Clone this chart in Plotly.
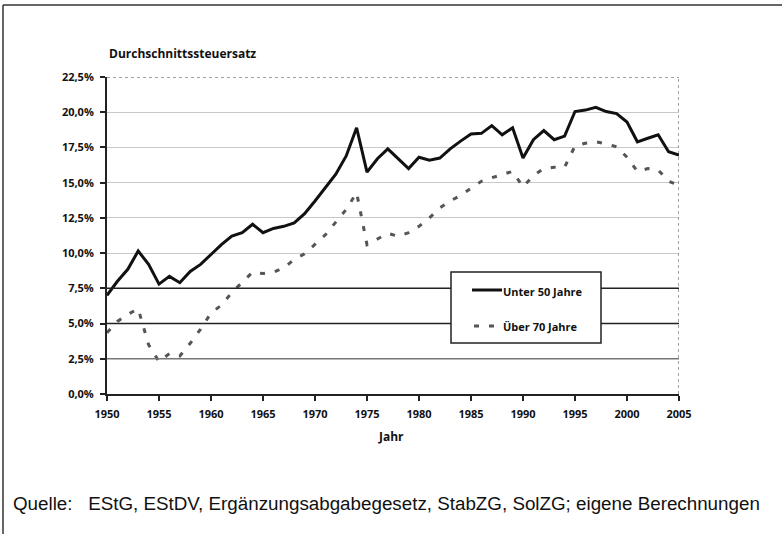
import plotly.graph_objects as go

years = list(range(1950, 2006))

unter_50 = [7.0, 8.0, 8.85, 10.15, 9.2, 7.8, 8.35, 7.9, 8.7, 9.2,
            9.9, 10.6, 11.2, 11.45, 12.05, 11.45, 11.75, 11.9, 12.15, 12.8,
            13.7, 14.65, 15.6, 16.9, 18.9, 15.75, 16.7, 17.4, 16.7, 16.0,
            16.8, 16.6, 16.75, 17.4, 17.95, 18.45, 18.5, 19.05, 18.4, 18.9,
            16.75, 18.05, 18.7, 18.05, 18.3, 20.05, 20.15, 20.35, 20.05, 19.9,
            19.3, 17.9, 18.15, 18.4, 17.2, 16.95]

ueber_70 = [4.35, 5.15, 5.65, 6.05, 3.5, 2.3, 2.87, 2.7, 3.6, 4.6,
            5.75, 6.3, 7.2, 7.9, 8.65, 8.55, 8.65, 8.95, 9.55, 9.95,
            10.6, 11.3, 12.2, 13.1, 14.3, 10.6, 11.0, 11.4, 11.2, 11.45,
            11.9, 12.5, 13.2, 13.7, 14.1, 14.6, 15.1, 15.35, 15.6, 15.8,
            14.7, 15.5, 16.0, 16.1, 16.1, 17.6, 17.8, 17.9, 17.75, 17.55,
            16.8, 15.8, 16.0, 15.9, 15.1, 14.8]

series_names = ["Unter 50 Jahre", "Über 70 Jahre"]
y_ticks = [0, 2.5, 5, 7.5, 10, 12.5, 15, 17.5, 20, 22.5]
y_ticktext = ["0,0%", "2,5%", "5,0%", "7,5%", "10,0%", "12,5%", "15,0%", "17,5%", "20,0%", "22,5%"]
x_ticks = list(range(1950, 2006, 5))
dark_grid = [2.5, 5, 7.5]

W, H = 782, 534
L, R, T, B = 107, 103, 77, 140
pw, ph = W - L - R, H - T - B

def px(x):
    return (x - L) / pw

def py(y):
    return 1 - (y - T) / ph

FONT = "Open Sans"

fig = go.Figure()
fig.add_trace(go.Scatter(x=years, y=unter_50, mode="lines", name=series_names[0],
                         line=dict(color="#111111", width=3), showlegend=False))
fig.add_trace(go.Scatter(x=years, y=ueber_70, mode="lines", name=series_names[1],
                         line=dict(color="#555555", width=3, dash="5px,10px"), showlegend=False))

shapes = []
for g in dark_grid:
    shapes.append(dict(type="line", xref="x", yref="y", x0=1950, x1=2005, y0=g, y1=g,
                       line=dict(color="#222222" if g > 2.5 else "#777777", width=1.5), layer="above"))
# top and right dotted border of the plot area
shapes.append(dict(type="line", xref="x", yref="y", x0=1950, x1=2005, y0=22.5, y1=22.5,
                   line=dict(color="#444444", width=1, dash="dot")))
shapes.append(dict(type="line", xref="x", yref="y", x0=2005, x1=2005, y0=0, y1=22.5,
                   line=dict(color="#444444", width=1, dash="dot")))
# outer frame
shapes.append(dict(type="line", xref="paper", yref="paper", x0=px(3), x1=px(782), y0=py(5), y1=py(5),
                   line=dict(color="#333333", width=1.5)))
shapes.append(dict(type="line", xref="paper", yref="paper", x0=px(3), x1=px(3), y0=py(5), y1=py(534),
                   line=dict(color="#333333", width=1.5)))
# legend box (drawn manually)
shapes.append(dict(type="rect", xref="paper", yref="paper", x0=px(451), x1=px(601), y0=py(272), y1=py(343),
                   line=dict(color="#222222", width=1.5), fillcolor="white", layer="above"))
shapes.append(dict(type="line", xref="paper", yref="paper", x0=px(472), x1=px(502), y0=py(290), y1=py(290),
                   line=dict(color="#111111", width=3), layer="above"))
shapes.append(dict(type="line", xref="paper", yref="paper", x0=px(474), x1=px(497), y0=py(326), y1=py(326),
                   line=dict(color="#555555", width=3, dash="5px,10px"), layer="above"))

annotations = [
    dict(text="<b>Durchschnittssteuersatz</b>", xref="paper", yref="paper",
         x=px(107), y=py(53), xanchor="left", yanchor="middle", showarrow=False,
         font=dict(family=FONT, size=12, color="#111111")),
    dict(text="<b>Jahr</b>", xref="paper", yref="paper",
         x=px(391), y=py(436), xanchor="center", yanchor="middle", showarrow=False,
         font=dict(family=FONT, size=12, color="#111111")),
    dict(text="<b>" + series_names[0] + "</b>", xref="paper", yref="paper",
         x=px(501), y=py(291), xanchor="left", yanchor="middle", showarrow=False,
         font=dict(family=FONT, size=11, color="#111111")),
    dict(text="<b>" + series_names[1] + "</b>", xref="paper", yref="paper",
         x=px(501), y=py(326), xanchor="left", yanchor="middle", showarrow=False,
         font=dict(family=FONT, size=11, color="#111111")),
    dict(text="Quelle:   EStG, EStDV, Ergänzungsabgabegesetz, StabZG, SolZG; eigene Berechnungen",
         xref="paper", yref="paper", x=px(11), y=py(503), xanchor="left", yanchor="middle",
         showarrow=False, font=dict(family="Liberation Sans", size=18.8, color="#111111")),
]

fig.update_layout(
    width=W, height=H,
    margin=dict(l=L, r=R, t=T, b=B, pad=0),
    paper_bgcolor="white", plot_bgcolor="white",
    font=dict(family=FONT, size=11, color="#111111"),
    showlegend=False,
    shapes=shapes,
    annotations=annotations,
    xaxis=dict(range=[1950, 2005], tickvals=x_ticks, ticktext=[str(v) for v in x_ticks],
               showgrid=False, zeroline=False, showline=True, linecolor="#222222", linewidth=2,
               ticks="outside", ticklen=5, tickcolor="#222222", tickwidth=1.5,
               ticklabelstandoff=4,
               tickfont=dict(family=FONT, size=11, color="#111111", weight="bold")),
    yaxis=dict(range=[0, 22.5], tickvals=y_ticks, ticktext=y_ticktext,
               showgrid=True, gridcolor="#c8c8c8", gridwidth=1, zeroline=False,
               showline=True, linecolor="#222222", linewidth=2,
               ticks="outside", ticklen=5, tickcolor="#222222", tickwidth=1.5,
               ticklabelstandoff=4,
               tickfont=dict(family=FONT, size=11, color="#111111", weight="bold")),
)

fig.write_html("out.html", config={"displayModeBar": False},
               post_script="document.body.style.margin='0';")
